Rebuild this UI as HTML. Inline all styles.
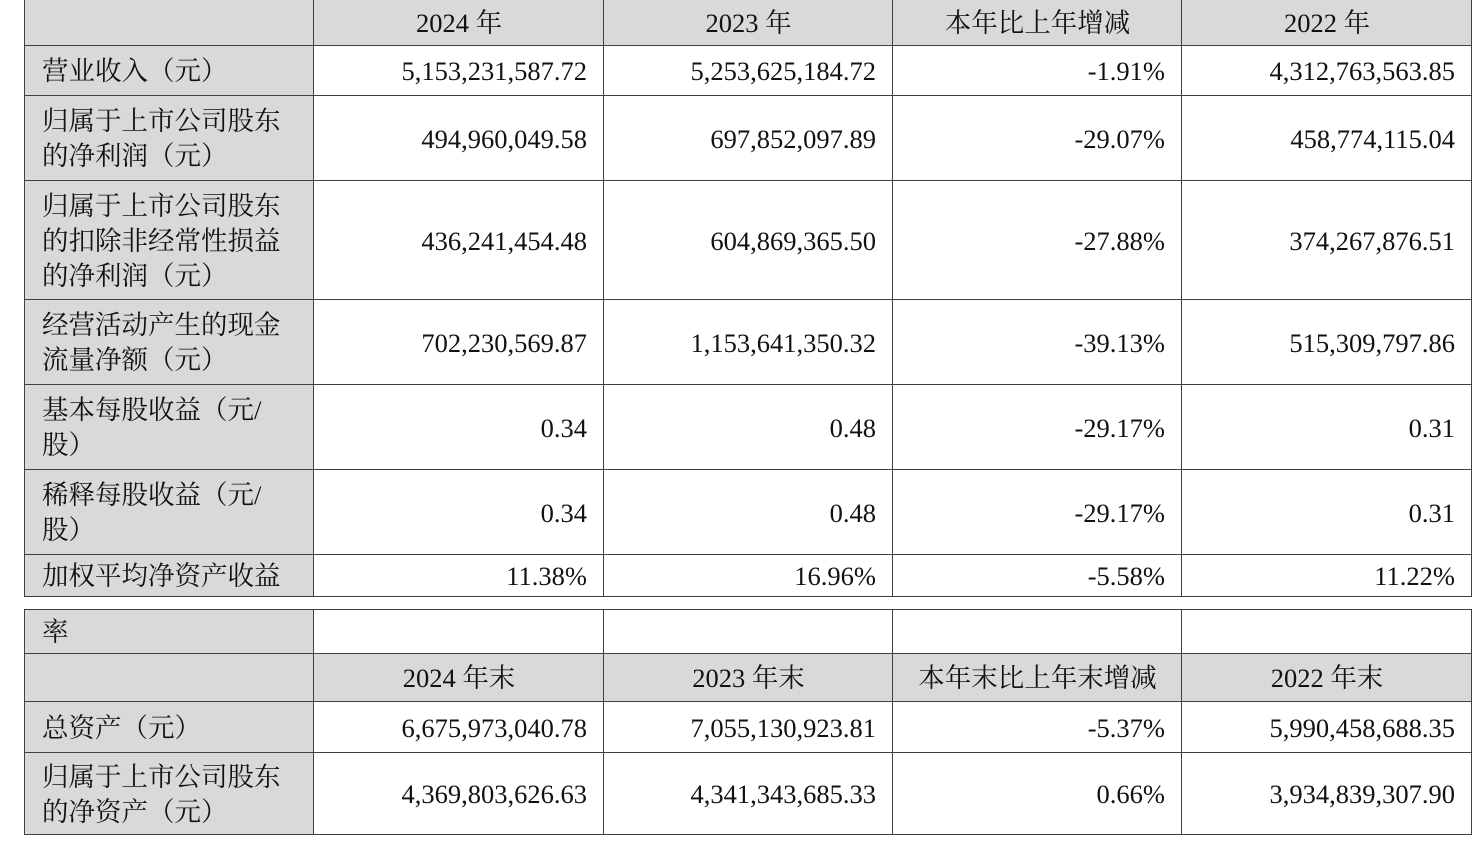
<!DOCTYPE html>
<html><head><meta charset="utf-8"><style>
body{margin:0;background:#fff;width:1481px;height:843px;overflow:hidden;position:relative;font-family:"Liberation Serif","Noto Serif CJK SC",serif;font-size:26.5px;color:#111}
table{position:absolute;left:24px;border-collapse:collapse;table-layout:fixed;width:1448px}
td{border:1px solid #404040;padding:2px 16px 0 17px;text-align:right;vertical-align:middle;line-height:35px;white-space:nowrap;overflow:hidden}
td:first-child{background:#d9d9d9;text-align:left}
tr.h td{background:#d9d9d9;text-align:center}
</style></head><body>
<table style="top:-1px">
<colgroup><col style="width:289px"><col style="width:290px"><col style="width:289px"><col style="width:289px"><col style="width:290px"></colgroup>
<tr class="h" style="height:46px"><td></td><td>2024 年</td><td>2023 年</td><td>本年比上年增减</td><td>2022 年</td></tr>
<tr style="height:50px"><td>营业收入（元）</td><td>5,153,231,587.72</td><td>5,253,625,184.72</td><td>-1.91%</td><td>4,312,763,563.85</td></tr>
<tr style="height:85px"><td>归属于上市公司股东<br>的净利润（元）</td><td>494,960,049.58</td><td>697,852,097.89</td><td>-29.07%</td><td>458,774,115.04</td></tr>
<tr style="height:119px"><td>归属于上市公司股东<br>的扣除非经常性损益<br>的净利润（元）</td><td>436,241,454.48</td><td>604,869,365.50</td><td>-27.88%</td><td>374,267,876.51</td></tr>
<tr style="height:85px"><td>经营活动产生的现金<br>流量净额（元）</td><td>702,230,569.87</td><td>1,153,641,350.32</td><td>-39.13%</td><td>515,309,797.86</td></tr>
<tr style="height:85px"><td>基本每股收益（元/<br>股）</td><td>0.34</td><td>0.48</td><td>-29.17%</td><td>0.31</td></tr>
<tr style="height:85px"><td>稀释每股收益（元/<br>股）</td><td>0.34</td><td>0.48</td><td>-29.17%</td><td>0.31</td></tr>
<tr style="height:42px"><td>加权平均净资产收益</td><td>11.38%</td><td>16.96%</td><td>-5.58%</td><td>11.22%</td></tr>
</table>
<table style="top:609px">
<colgroup><col style="width:289px"><col style="width:290px"><col style="width:289px"><col style="width:289px"><col style="width:290px"></colgroup>
<tr style="height:44px"><td style="vertical-align:top;line-height:40px">率</td><td></td><td></td><td></td><td></td></tr>
<tr class="h" style="height:48px"><td></td><td>2024 年末</td><td>2023 年末</td><td>本年末比上年末增减</td><td>2022 年末</td></tr>
<tr style="height:51px"><td>总资产（元）</td><td>6,675,973,040.78</td><td>7,055,130,923.81</td><td>-5.37%</td><td>5,990,458,688.35</td></tr>
<tr style="height:82px"><td>归属于上市公司股东<br>的净资产（元）</td><td>4,369,803,626.63</td><td>4,341,343,685.33</td><td>0.66%</td><td>3,934,839,307.90</td></tr>
</table>
</body></html>
